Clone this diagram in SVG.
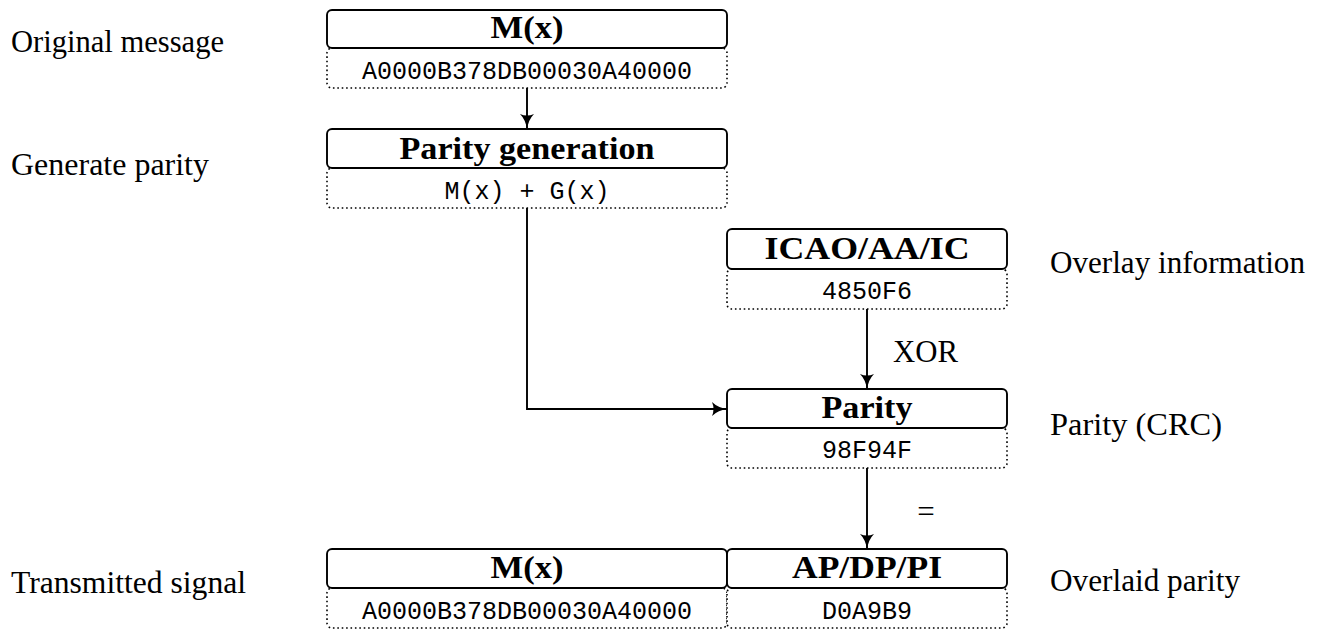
<svg xmlns="http://www.w3.org/2000/svg" width="1323" height="629" viewBox="0 0 1323 629">
<style>
.solid{fill:#fff;stroke:#000;stroke-width:1.9}
.dot{fill:#fff;stroke:#000;stroke-width:1.6;stroke-dasharray:1.6 2.8}
.title{font-family:"Liberation Serif",serif;font-weight:bold;font-size:31px;text-anchor:middle;fill:#000}
.mono{font-family:"Liberation Mono",monospace;font-size:25px;text-anchor:middle;fill:#000}
.lbl{font-family:"Liberation Serif",serif;font-size:31px;fill:#000}
.conn{fill:none;stroke:#000;stroke-width:1.9}
</style>
<defs>
<marker id="ah" viewBox="0 0 16 14" refX="15" refY="7" markerWidth="16" markerHeight="14" markerUnits="userSpaceOnUse" orient="auto">
<path d="M0,0 Q6,6 16,7 Q6,8 0,14 Q3,7 0,0 z" fill="#000"/>
</marker>
</defs>
<g id="labels">
<text class="lbl" x="11" y="52" textLength="213" lengthAdjust="spacingAndGlyphs">Original message</text>
<text class="lbl" x="11" y="175" textLength="198" lengthAdjust="spacingAndGlyphs">Generate parity</text>
<text class="lbl" x="11" y="593" textLength="235" lengthAdjust="spacingAndGlyphs">Transmitted signal</text>
<text class="lbl" x="1050" y="273" textLength="255" lengthAdjust="spacingAndGlyphs">Overlay information</text>
<text class="lbl" x="1050" y="435" textLength="172" lengthAdjust="spacingAndGlyphs">Parity (CRC)</text>
<text class="lbl" x="1050" y="591" textLength="190" lengthAdjust="spacingAndGlyphs">Overlaid parity</text>
</g>
<g id="connectors">
<path class="conn" d="M527,88 V129" marker-end="url(#ah)"/>
<path class="conn" d="M527,208 V409 H727" marker-end="url(#ah)"/>
<path class="conn" d="M867,309 V389" marker-end="url(#ah)"/>
<path class="conn" d="M867,468 V549" marker-end="url(#ah)"/>
<text class="lbl" x="893" y="362" textLength="65" lengthAdjust="spacingAndGlyphs">XOR</text>
<text class="lbl" x="926" y="522" text-anchor="middle">=</text>
</g>
<g id="node-msg">
<rect class="dot" x="327" y="48" width="400" height="40" rx="5"/>
<rect class="solid" x="327" y="10" width="400" height="38" rx="5"/>
<text class="title" x="527" y="38" textLength="73" lengthAdjust="spacingAndGlyphs">M(x)</text>
<text class="mono" x="527" y="79">A0000B378DB00030A40000</text>
</g>
<g id="node-gen">
<rect class="dot" x="327" y="168" width="400" height="40" rx="5"/>
<rect class="solid" x="327" y="129" width="400" height="39" rx="5"/>
<text class="title" x="527" y="159" textLength="255" lengthAdjust="spacingAndGlyphs">Parity generation</text>
<text class="mono" x="527" y="199">M(x) + G(x)</text>
</g>
<g id="node-icao">
<rect class="dot" x="727" y="269" width="280" height="40" rx="5"/>
<rect class="solid" x="727" y="229" width="280" height="40" rx="5"/>
<text class="title" x="867" y="259" textLength="205" lengthAdjust="spacingAndGlyphs">ICAO/AA/IC</text>
<text class="mono" x="867" y="299">4850F6</text>
</g>
<g id="node-parity">
<rect class="dot" x="727" y="428" width="280" height="40" rx="5"/>
<rect class="solid" x="727" y="389" width="280" height="39" rx="5"/>
<text class="title" x="867" y="418" textLength="91" lengthAdjust="spacingAndGlyphs">Parity</text>
<text class="mono" x="867" y="458">98F94F</text>
</g>
<g id="node-tx-msg">
<rect class="dot" x="327" y="588" width="400" height="40" rx="5"/>
<rect class="solid" x="327" y="549" width="400" height="39" rx="5"/>
<text class="title" x="527" y="578" textLength="73" lengthAdjust="spacingAndGlyphs">M(x)</text>
<text class="mono" x="527" y="619">A0000B378DB00030A40000</text>
</g>
<g id="node-tx-parity">
<rect class="dot" x="727" y="588" width="280" height="40" rx="5"/>
<rect class="solid" x="727" y="549" width="280" height="39" rx="5"/>
<text class="title" x="867" y="578" textLength="150" lengthAdjust="spacingAndGlyphs">AP/DP/PI</text>
<text class="mono" x="867" y="619">D0A9B9</text>
</g>
</svg>
